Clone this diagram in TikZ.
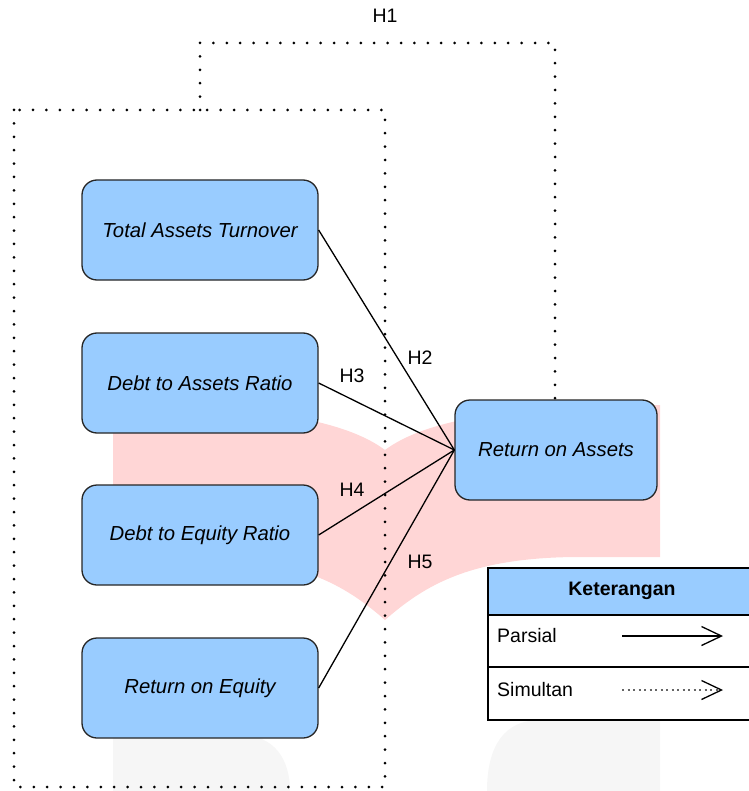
\documentclass[tikz,border=0pt]{standalone}
\usepackage{fontspec}
\setmainfont{Liberation Sans}
\usetikzlibrary{arrows.meta}
\definecolor{boxblue}{HTML}{99CCFF}
\definecolor{wmpink}{HTML}{FFD6D6}
\definecolor{wmgray}{HTML}{F6F6F6}
\tikzset{
  varbox/.style={draw=black!85, line width=1.3pt, fill=boxblue, rounded corners=15pt,
    minimum width=236pt, minimum height=100pt, font=\fontsize{20.3}{24}\selectfont\itshape, inner sep=0pt},
  roabox/.style={varbox, minimum width=202pt},
  hlabel/.style={font=\fontsize{19.5}{23}\selectfont, inner sep=0pt},
  link/.style={draw=black, line width=1.3pt},
  dotline/.style={draw=black, line width=3pt, line cap=round, dash pattern=on 0pt off 13.4pt},
  legtext/.style={font=\fontsize{19.5}{23}\selectfont, inner sep=0pt, anchor=west},
}
\begin{document}
\begin{tikzpicture}[x=1pt,y=-1pt]
\useasboundingbox (0,0) rectangle (748,791);
% watermark shapes
\fill[wmpink] (113,405) .. controls (260,405) and (345,420) .. (385,450)
  .. controls (425,420) and (510,405) .. (660,405) -- (660,557) -- (575,557)
  .. controls (470,558) and (425,585) .. (385,620)
  .. controls (345,585) and (300,558) .. (195,557) -- (113,557) -- cycle;
\fill[wmgray] (113,791) -- (113,735) -- (240,735) .. controls (275,735) and (290,760) .. (290,791) -- cycle;
\fill[wmgray] (487,791) .. controls (487,745) and (505,720) .. (540,720) -- (660,720) -- (660,791) -- cycle;
% nodes
\node[varbox] (tat) at (200,230) {Total Assets Turnover};
\node[varbox] (dar) at (200,383) {Debt to Assets Ratio};
\node[varbox] (der) at (200,535) {Debt to Equity Ratio};
\node[varbox] (roe) at (200,688) {Return on Equity};
\node[roabox] (roa) at (556,450) {Return on Assets};
% dotted groups
\coordinate (inTL) at (14,110);
\coordinate (inBR) at (385,787);
\coordinate (hJoin) at (200,110);
\coordinate (hTL) at (200,43);
\coordinate (hTR) at (555,43);
\draw[dotline] (inTL) rectangle (inBR);
\draw[dotline] (hJoin) -- (hTL) -- (hTR) -- (hTR |- roa.north);
\node[hlabel] (h1) at (385,16) {H1};
% links
\draw[link] (tat.east) -- (roa.west);
\draw[link] (dar.east) -- (roa.west);
\draw[link] (der.east) -- (roa.west);
\draw[link] (roe.east) -- (roa.west);
\node[hlabel] (h2) at (420,358) {H2};
\node[hlabel] (h3) at (352,376) {H3};
\node[hlabel] (h4) at (352,490) {H4};
\node[hlabel] (h5) at (420,562) {H5};
% legend
\draw[fill=boxblue, line width=1.3pt] (488,568) rectangle (770,615);
\draw[fill=white, line width=1.3pt] (488,615) rectangle (770,667);
\draw[fill=white, line width=1.3pt] (488,667) rectangle (770,720);
\node[font=\fontsize{19.5}{23}\selectfont\bfseries, inner sep=0pt] (ket) at (622,591) {Keterangan};
\node[legtext] (par) at (497,636) {Parsial};
\node[legtext] (sim) at (497,690) {Simultan};
\coordinate (pa) at (622,636);
\coordinate (pb) at (723,636);
\coordinate (sa) at (622,690);
\coordinate (sb) at (723,690);
\draw[line width=1.3pt, -{Straight Barb[length=20pt,width=19pt,line width=1.3pt]}] (pa) -- (pb);
\draw[black!60, line width=1.5pt, dash pattern=on 2pt off 3.5pt, -{Straight Barb[length=20pt,width=19pt,line width=1.3pt,black]}] (sa) -- (sb);
\end{tikzpicture}
\end{document}
